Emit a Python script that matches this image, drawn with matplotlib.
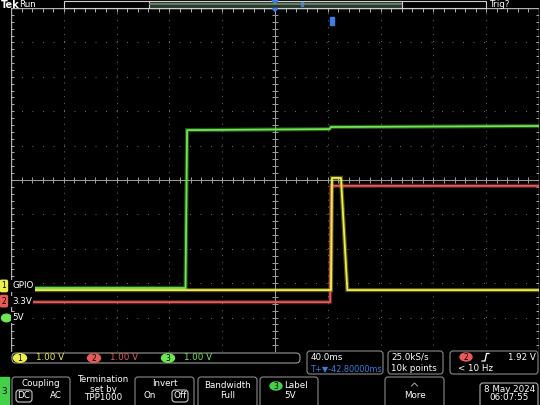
import numpy as np
import matplotlib
matplotlib.use("Agg")
import matplotlib.pyplot as plt
from matplotlib.patches import FancyBboxPatch, Rectangle, Ellipse, Polygon

# scope settings
time_per_div = 40.0       # ms/div
h_delay = -42.8           # ms, trigger sits right of centre
volts_per_div = [1.0, 1.0, 1.0]
ch_names = ["GPIO", "3.3V", "5V"]
ch_offsets = [-3.08, -3.52, -4.01]   # ground marker position, divisions

# traces (time in ms from trigger, volts)
ch1_t = [-243.0, -0.4, 0.4, 7.2, 12.0, 158.0]
ch1_v = [-0.12, -0.12, 3.14, 3.14, -0.12, -0.12]
ch2_t = [-243.0, -1.0, -0.2, 158.0]
ch2_v = [-0.03, -0.03, 3.35, 3.35]
ch3_t = [-243.0, -110.6, -109.4, -1.5, -0.5, 158.0]
ch3_v = [0.87, 0.87, 5.46, 5.49, 5.55, 5.58]

readouts = ["1.00 V", "1.00 V", "1.00 V"]
trig_level = "1.92 V"

yellow = "#eeee4a"
red = "#e85a5a"
green = "#6ee850"
blue = "#3d7fe0"
grid_c = "#6a6a6a"

W, H = 540, 405
fig = plt.figure(figsize=(W / 100, H / 100), dpi=100, facecolor="black")

# main graticule axes (pixels 11..539 x 8..352)
ax = fig.add_axes([11 / W, (H - 352) / H, 528 / W, 344 / H], facecolor="black")
x0 = h_delay - 5 * time_per_div
x1 = h_delay + 5 * time_per_div
ax.set_xlim(x0, x1)
ax.set_ylim(-5, 5)
ax.set_xticks([])
ax.set_yticks([])
for s in ax.spines.values():
    s.set_visible(False)

# dotted grid
for k in range(1, 10):
    if k == 5:
        continue
    ax.axvline(x0 + k * time_per_div, color=grid_c, lw=0.72, ls=(0, (1, 5.9)), zorder=1)
    ax.axhline(-5 + k, color=grid_c, lw=0.72, ls=(0, (1, 9.5)), zorder=1)
# centre cross + frame
ax.axvline(h_delay, color="#a0a0a0", lw=0.7, zorder=1)
ax.axhline(0, color="#a0a0a0", lw=0.7, zorder=1)
ax.axvline(x0, color="#b0b0b0", lw=1.0, zorder=1)
ax.axvline(x1, color="#b0b0b0", lw=1.0, zorder=1)
ax.axhline(5, color="#b0b0b0", lw=1.0, zorder=1)
minor_x = x0 + np.arange(1, 50) * time_per_div / 5
minor_y = -5 + np.arange(1, 50) * 0.2
ax.vlines(minor_x, -0.09, 0.09, color="#a0a0a0", lw=0.7, zorder=1)
ax.hlines(minor_y, h_delay - 2.0, h_delay + 2.0, color="#a0a0a0", lw=0.7, zorder=1)
ax.vlines(minor_x, 4.88, 5, color="#b0b0b0", lw=0.7, zorder=1)
ax.hlines(minor_y, x0, x0 + 2.5, color="#b0b0b0", lw=0.7, zorder=1)
ax.hlines(minor_y, x1 - 2.5, x1, color="#b0b0b0", lw=0.7, zorder=1)


def div(v, ch):
    return np.array(v) / volts_per_div[ch] + ch_offsets[ch]


traces = [(ch2_t, ch2_v, red, 1), (ch3_t, ch3_v, green, 2), (ch1_t, ch1_v, yellow, 0)]
for t, v, c, ch in traces:
    ax.plot(t, div(v, ch), color=c, lw=3.0, alpha=0.35, zorder=3, solid_joinstyle="miter")
    ax.plot(t, div(v, ch), color=c, lw=1.3, zorder=4)

# trigger marker at t=0
ax.add_patch(Rectangle((-1.5, 4.5), 3.2, 0.25, color=blue, zorder=6, clip_on=False))

# ground markers on the left margin
ytr = ax.get_yaxis_transform()
tag_cols = [yellow, red, green]
for ch in range(3):
    fx = -9.5 / 528
    if ch < 2:
        ax.text(fx, ch_offsets[ch], str(ch + 1), transform=ytr, fontsize=5.5, color="black",
                ha="left", va="center", clip_on=False, zorder=7,
                bbox=dict(boxstyle="round,pad=0.25", fc=tag_cols[ch], ec="none"))
    else:
        ax.add_patch(Ellipse((-4.5 / 528, ch_offsets[ch]), 10 / 528, 0.22, transform=ytr,
                             color=green, clip_on=False, zorder=7))
    ax.text(1.5 / 528, ch_offsets[ch], ch_names[ch], transform=ytr, fontsize=6.3,
            color="white", ha="left", va="center", zorder=8,
            bbox=dict(boxstyle="square,pad=0.12", fc="black", ec="none"))

# overlay for the instrument chrome, pixel coordinates
ui = fig.add_axes([0, 0, 1, 1], facecolor="none")
ui.set_xlim(0, W)
ui.set_ylim(H, 0)
ui.axis("off")

f = dict(family="DejaVu Sans", fontsize=6.3)

# top bar
ui.text(0.5, 4.5, "Tek", color="white", fontweight="bold", ha="left", va="center",
        family="DejaVu Sans", fontsize=7)
ui.text(19, 4.5, "Run", color="white", ha="left", va="center", **f)
ui.text(489, 4.5, "Trig?", color="white", ha="left", va="center", **f)
ui.add_patch(Rectangle((64, 0.5), 422, 7.5, fc="none", ec="#d0d0d0", lw=0.8))
ui.add_patch(Rectangle((149, 0.5), 253, 7.5, fc="#27382c", ec="#d0d0d0", lw=0.8))
ui.plot([150, 401], [3.5, 3.5], color="#6f8a72", lw=1.2)
ui.add_patch(Polygon([[272, 0.5], [278, 0.5], [275, 4]], color=blue))
ui.add_patch(Polygon([[272.5, 8.5], [277.5, 8.5], [275, 11.5]], color=blue))
ui.add_patch(Rectangle((300.5, 2), 2.5, 4, color=blue))

# channel readouts
ui.add_patch(FancyBboxPatch((12, 353), 288, 10, boxstyle="round,pad=0,rounding_size=4",
                            fc="black", ec="#9a9a9a", lw=0.8))
for i, (xc, c) in enumerate(zip([20, 94, 168], [yellow, red, green])):
    ui.add_patch(Ellipse((xc, 358), 13, 8.5, color=c))
    ui.text(xc, 358.3, str(i + 1), color="black", ha="center", va="center", fontsize=5.5)
    ui.text(xc + 16, 358, readouts[i], color=c, ha="left", va="center", **f)


def box(x, y, w, h, ec="#8a8a8a"):
    ui.add_patch(FancyBboxPatch((x, y), w, h, boxstyle="round,pad=0,rounding_size=3",
                                fc="black", ec=ec, lw=0.8))


box(307, 351, 76, 23)
ui.text(311, 357, "40.0ms", color="white", ha="left", va="center", **f)
ui.text(311, 368.5, "T+\u25bc-42.80000ms", color=blue, ha="left", va="center",
        family="DejaVu Sans", fontsize=5.9)
box(388, 351, 55, 23)
ui.text(391, 357, "25.0kS/s", color="white", ha="left", va="center", **f)
ui.text(391, 368.5, "10k points", color="white", ha="left", va="center", **f)
box(450, 351, 88, 23)
ui.add_patch(Ellipse((466, 357), 12, 8, color=red))
ui.text(466, 357.3, "2", color="black", ha="center", va="center", fontsize=5.5)
ui.plot([482, 485, 486.5, 489], [361, 361, 353.5, 353.5], color="white", lw=0.9)
ui.text(536, 357, trig_level, color="white", ha="right", va="center", **f)
ui.text(458, 368.5, "< 10 Hz", color="white", ha="left", va="center", **f)

# menu row
ui.add_patch(Rectangle((0, 377), 9, 28, color="#45d04a"))
ui.text(4.5, 391, "3", color="black", ha="center", va="center", **f)
box(12, 377, 58, 32)
ui.text(41, 383, "Coupling", color="white", ha="center", va="center", **f)
box(16, 390, 16, 12, ec="#c8c8c8")
ui.text(24, 396, "DC", color="white", ha="center", va="center", **f)
ui.text(56, 396, "AC", color="white", ha="center", va="center", **f)
ui.text(103, 380, "Termination", color="white", ha="center", va="center", **f)
ui.text(103, 389, "set by", color="white", ha="center", va="center", **f)
ui.text(103, 398, "TPP1000", color="white", ha="center", va="center", **f)
box(135, 377, 59, 32)
ui.text(164.5, 383, "Invert", color="white", ha="center", va="center", **f)
ui.text(150, 396, "On", color="white", ha="center", va="center", **f)
box(172, 390, 16, 12, ec="#c8c8c8")
ui.text(180, 396, "Off", color="white", ha="center", va="center", **f)
box(198, 377, 59, 32)
ui.text(227.5, 386, "Bandwidth", color="white", ha="center", va="center", **f)
ui.text(227.5, 395, "Full", color="white", ha="center", va="center", **f)
box(260, 377, 58, 32)
ui.add_patch(Ellipse((276, 386), 12, 8, color="#45d04a"))
ui.text(276, 386.3, "3", color="black", ha="center", va="center", fontsize=5.5)
ui.text(296, 386, "Label", color="white", ha="center", va="center", **f)
ui.text(290, 395, "5V", color="white", ha="center", va="center", **f)
box(385, 377, 59, 32)
ui.plot([411.5, 414.5, 417.5], [386, 383, 386], color="#aaaaaa", lw=0.7)
ui.text(414.5, 395, "More", color="white", ha="center", va="center", **f)
box(480, 383, 58, 26, ec="#b0b0b0")
ui.text(510, 389, "8 May 2024", color="white", ha="center", va="center", **f)
ui.text(509, 398, "06:07:55", color="white", ha="center", va="center", **f)

fig.savefig("out.png", dpi=100, facecolor="black")
